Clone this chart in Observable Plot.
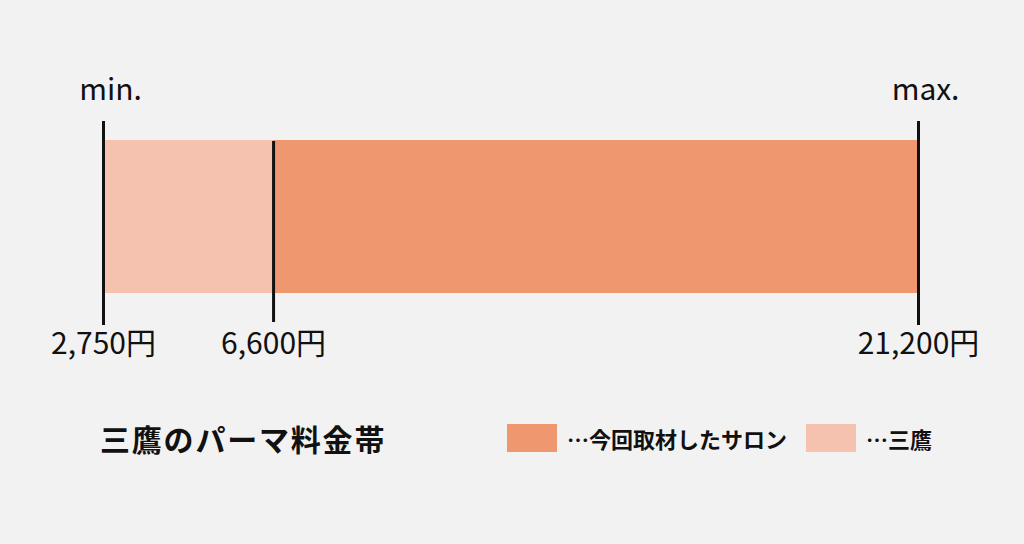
<!DOCTYPE html>
<html>
<head>
<meta charset="utf-8">
<script src="https://cdn.jsdelivr.net/npm/d3@7"></script>
<script src="https://cdn.jsdelivr.net/npm/@observablehq/plot@0.6"></script>
<style>
  html, body { margin: 0; padding: 0; background: #f2f2f2; }
  #wrap { position: relative; width: 1024px; height: 544px; background: #f2f2f2; font-family: "Noto Sans CJK JP", sans-serif; }
  #legend { position: absolute; left: 0; top: 418px; width: 1024px; height: 40px; }
  #legend .title { position: absolute; left: 100px; top: 0; line-height: 40px; font-size: 30px; font-weight: 700; color: #111; letter-spacing: 1.8px; }
  #legend .item { position: absolute; top: 0; height: 40px; display: flex; align-items: center; }
  #legend .sw { width: 50px; height: 28px; margin-right: 10px; }
  #legend .lab { font-size: 22px; font-weight: 700; color: #111; }
</style>
</head>
<body>
<div id="wrap"><div id="chart"></div><div id="legend"></div></div>
<script>
// Data
const seriesNames = ["三鷹", "今回取材したサロン"];
const seriesMin = [2750, 6600];
const seriesMax = [21200, 21200];
const seriesColors = ["#f5c2b0", "#ef9870"];

const endValues = [2750, 21200];
const endLabels = ["min.", "max."];
const midValues = [6600];
const tickValues = [2750, 6600, 21200];
const tickLabels = ["2,750円", "6,600円", "21,200円"];
const legendTitle = "三鷹のパーマ料金帯";
const legendOrder = [1, 0];

const bars = seriesNames.map((n, i) => ({name: n, x1: seriesMin[i], x2: seriesMax[i], color: seriesColors[i]}));
const ends = endValues.map((v, i) => ({v, label: endLabels[i]}));
const ticks = tickValues.map((v, i) => ({v, label: tickLabels[i]}));

const chart = Plot.plot({
  width: 1024,
  height: 400,
  marginLeft: 103,
  marginRight: 106,
  marginTop: 121,
  marginBottom: 75,
  style: {background: "#f2f2f2", fontFamily: "'Noto Sans CJK JP', sans-serif", color: "#111"},
  x: {domain: [2750, 21200], axis: null},
  marks: [
    Plot.rectX(bars, {x1: "x1", x2: "x2", fill: "color", insetTop: 19, insetBottom: 32}),
    Plot.ruleX(endValues, {stroke: "#111", strokeWidth: 3}),
    Plot.ruleX(midValues, {stroke: "#111", strokeWidth: 3, insetTop: 20, insetBottom: 3}),
    Plot.text(ends, {x: "v", text: "label", frameAnchor: "top", dy: -43, dx: 7, fontSize: 30, fill: "#111"}),
    Plot.text(ticks, {x: "v", text: "label", frameAnchor: "bottom", dy: 28, fontSize: 30, fill: "#111"})
  ]
});
document.getElementById("chart").appendChild(chart);

const legend = document.getElementById("legend");
const t = document.createElement("div");
t.className = "title";
t.textContent = legendTitle;
legend.appendChild(t);
const lefts = [507, 806];
legendOrder.forEach((idx, k) => {
  const it = document.createElement("div");
  it.className = "item";
  it.style.left = lefts[k] + "px";
  const sw = document.createElement("div");
  sw.className = "sw";
  sw.style.background = seriesColors[idx];
  const lab = document.createElement("div");
  lab.className = "lab";
  lab.textContent = "…" + seriesNames[idx];
  it.appendChild(sw);
  it.appendChild(lab);
  legend.appendChild(it);
});
</script>
</body>
</html>
